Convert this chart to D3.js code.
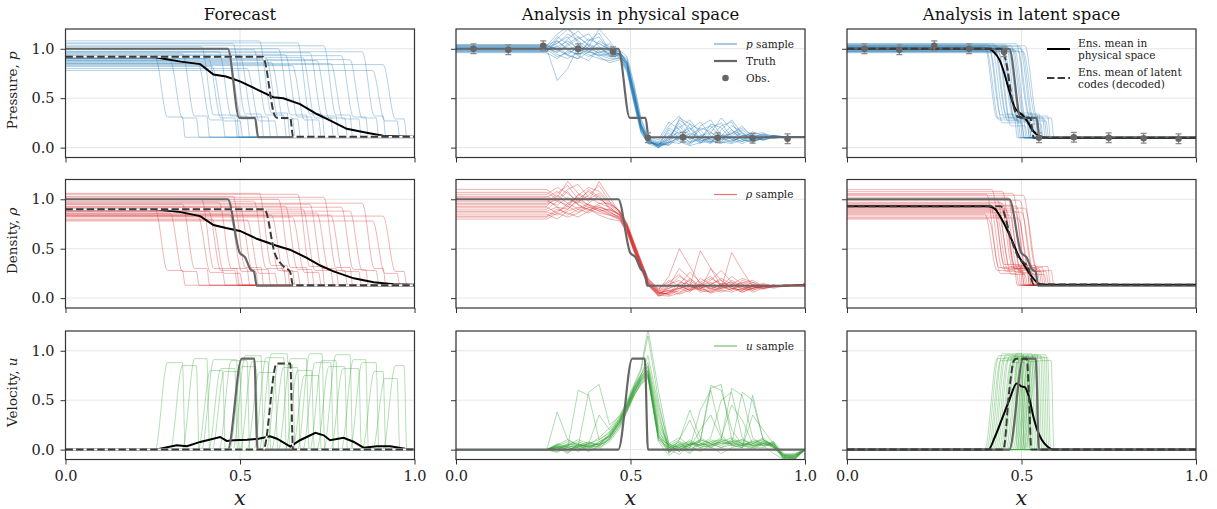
<!DOCTYPE html>
<html>
<head>
<meta charset="utf-8">
<script src="https://cdn.jsdelivr.net/npm/d3@7"></script>
<style>
  body { margin: 0; background: #fff; }
  svg { font-family: "DejaVu Serif", serif; }
</style>
</head>
<body>
<svg id="chart" width="1217" height="509"></svg>
<script>
/* ---------- data ---------- */

var xTicks = [0, 0.5, 1.0],
    yTicks = [0, 0.5, 1.0];

var titles = ["Forecast", "Analysis in physical space", "Analysis in latent space"];

// observations of pressure (with error bars)
var obsX   = [0.05, 0.15, 0.25, 0.35, 0.45, 0.55, 0.65, 0.75, 0.85, 0.95];
var obsP   = [1.00, 0.99, 1.03, 1.00, 0.97, 0.10, 0.105, 0.10, 0.095, 0.09];
var obsErr = 0.05;

// truth
var truthP   = [[0,1],[0.465,1],[0.498,0.3],[0.543,0.3],[0.552,0.105],[1,0.105]];
var truthRho = [[0,1],[0.465,1],[0.499,0.46],[0.515,0.41],[0.53,0.29],[0.54,0.27],[0.548,0.125],[1,0.125]];
var truthU   = [[0,0],[0.465,0],[0.505,0.92],[0.541,0.92],[0.55,0],[1,0]];

var pRight = 0.105, rhoRight = 0.13;

// forecast ensemble members: rarefaction start, shock position, levels, peaks
var fcDrop     = [0.257,0.300,0.335,0.380,0.390,0.410,0.420,0.440,0.470,0.480,0.500,0.520,0.540,0.555,0.575,0.590,0.610,0.630,0.650,0.665,0.680,0.700,0.720,0.740,0.760,0.790,0.815,0.850,0.880,0.910];
var fcShock    = [0.335,0.375,0.405,0.450,0.490,0.485,0.500,0.520,0.545,0.560,0.580,0.600,0.625,0.635,0.650,0.665,0.690,0.705,0.725,0.735,0.760,0.775,0.800,0.815,0.840,0.860,0.890,0.910,0.950,0.970];
var fcLevelP   = [0.92,0.88,0.95,0.85,1.02,0.90,0.82,0.97,0.87,1.05,0.93,0.80,0.99,1.08,0.90,0.86,1.00,0.94,0.83,1.06,0.91,0.96,0.88,1.03,0.85,0.93,0.89,0.97,0.78,0.84];
var fcMidP     = [0.31,0.30,0.32,0.28,0.33,0.30,0.27,0.32,0.29,0.34,0.31,0.27,0.33,0.35,0.30,0.29,0.33,0.31,0.28,0.34,0.30,0.32,0.30,0.33,0.29,0.31,0.30,0.32,0.27,0.29];
var fcLevelRho = [0.90,0.86,0.95,0.83,1.00,0.88,0.80,0.97,0.85,1.03,0.92,0.79,0.98,1.06,0.88,0.84,1.00,0.93,0.82,1.05,0.90,0.95,0.86,1.02,0.84,0.92,0.88,0.96,0.78,0.83];
var fcMidRho   = [0.28,0.27,0.30,0.26,0.30,0.28,0.25,0.30,0.27,0.31,0.29,0.25,0.30,0.33,0.28,0.27,0.31,0.29,0.26,0.32,0.28,0.30,0.28,0.31,0.27,0.29,0.28,0.30,0.25,0.27];
var fcPeakU    = [0.88,0.85,0.92,0.80,0.91,0.82,0.79,0.90,0.84,0.95,0.89,0.78,0.93,0.97,0.86,0.83,0.92,0.80,0.75,0.97,0.88,0.90,0.84,0.96,0.82,0.91,0.88,0.79,0.72,0.85];

var fcMeanP   = [[0,0.915],[0.257,0.915],[0.33,0.87],[0.386,0.845],[0.424,0.74],[0.46,0.72],[0.5,0.67],[0.548,0.59],[0.595,0.51],[0.624,0.5],[0.672,0.44],[0.72,0.34],[0.749,0.29],[0.806,0.19],[0.863,0.15],[0.91,0.12],[1,0.11]];
var fcMeanRho = [[0,0.9],[0.257,0.9],[0.33,0.87],[0.386,0.83],[0.424,0.74],[0.46,0.71],[0.5,0.68],[0.548,0.6],[0.605,0.53],[0.643,0.49],[0.69,0.41],[0.73,0.33],[0.768,0.27],[0.826,0.2],[0.883,0.16],[0.94,0.14],[1,0.135]];
var fcMeanU   = [[0,0],[0.257,0],[0.319,0.044],[0.348,0.034],[0.386,0.078],[0.443,0.128],[0.462,0.088],[0.481,0.095],[0.52,0.1],[0.553,0.11],[0.586,0.135],[0.606,0.11],[0.644,0.03],[0.672,0.095],[0.716,0.17],[0.74,0.145],[0.758,0.095],[0.797,0.12],[0.825,0.08],[0.854,0.02],[0.892,0.034],[0.93,0.034],[0.973,0.01],[1,0]];
var fcLatentP   = [[0,0.92],[0.565,0.92],[0.6,0.32],[0.607,0.3],[0.644,0.3],[0.652,0.11],[1,0.11]];
var fcLatentRho = [[0,0.9],[0.57,0.9],[0.6,0.45],[0.625,0.32],[0.643,0.27],[0.652,0.13],[1,0.13]];
var fcLatentU   = [[0,0],[0.567,0],[0.605,0.87],[0.644,0.87],[0.652,0],[1,0]];

// analysis in latent space: members
var laDrop     = [0.395,0.400,0.405,0.410,0.415,0.420,0.425,0.430,0.435,0.440,0.445,0.450,0.455,0.460,0.465,0.470,0.475,0.480,0.485,0.490,0.495,0.500,0.505,0.510,0.445];
var laShock    = [0.480,0.490,0.485,0.500,0.495,0.505,0.500,0.515,0.510,0.520,0.515,0.530,0.525,0.540,0.535,0.545,0.540,0.555,0.550,0.565,0.560,0.570,0.575,0.585,0.520];
var laLevelP   = [1.02,0.98,1.04,0.97,1.01,1.05,0.99,1.03,0.96,1.00,1.02,0.98,1.04,1.01,0.97,1.03,1.00,0.99,1.05,0.98,1.02,1.00,0.97,1.03,1.01];
var laMidP     = [0.30,0.28,0.33,0.25,0.31,0.34,0.27,0.30,0.22,0.32,0.29,0.35,0.26,0.31,0.28,0.33,0.30,0.24,0.34,0.29,0.31,0.27,0.32,0.30,0.28];
var laLevelRho = [0.85,1.05,0.80,0.95,1.10,0.88,0.92,1.00,0.82,0.97,1.08,0.86,0.90,1.02,0.84,0.94,1.06,0.89,0.93,0.81,0.99,0.87,1.04,0.91,0.96];
var laMidRho   = [0.28,0.31,0.25,0.30,0.34,0.27,0.29,0.32,0.24,0.30,0.33,0.26,0.28,0.31,0.25,0.29,0.33,0.27,0.30,0.24,0.31,0.27,0.32,0.28,0.30];
var laPeakU    = [0.92,0.95,0.90,0.97,0.93,0.96,0.91,0.94,0.88,0.95,0.92,0.97,0.90,0.94,0.93,0.96,0.91,0.95,0.89,0.94,0.92,0.96,0.93,0.90,0.94];

var laMeanP   = [[0,1.0],[0.405,1.0],[0.42,0.97],[0.438,0.88],[0.45,0.76],[0.462,0.61],[0.48,0.41],[0.505,0.32],[0.518,0.26],[0.529,0.19],[0.545,0.13],[0.558,0.11],[0.58,0.1],[1,0.1]];
var laMeanRho = [[0,0.93],[0.405,0.93],[0.425,0.9],[0.443,0.8],[0.472,0.59],[0.49,0.44],[0.51,0.32],[0.529,0.22],[0.548,0.15],[0.567,0.135],[1,0.135]];
var laMeanU   = [[0,0],[0.405,0],[0.424,0.13],[0.443,0.3],[0.465,0.5],[0.486,0.67],[0.5,0.64],[0.51,0.63],[0.52,0.55],[0.535,0.32],[0.545,0.2],[0.558,0.1],[0.575,0.03],[0.59,0],[1,0]];
var laLatentP   = [[0,1.0],[0.44,1.0],[0.455,0.88],[0.475,0.45],[0.49,0.31],[0.525,0.3],[0.535,0.1],[1,0.1]];
var laLatentRho = [[0,0.93],[0.44,0.93],[0.47,0.6],[0.49,0.42],[0.52,0.3],[0.535,0.14],[1,0.135]];
var laLatentU   = [[0,0],[0.448,0],[0.465,0.6],[0.478,0.9],[0.485,0.92],[0.515,0.92],[0.522,0.5],[0.528,0],[1,0]];

// analysis in physical space: members sampled on a common x grid
var gridX = [0,0.26,0.29,0.32,0.35,0.38,0.41,0.44,0.47,0.49,0.51,0.53,0.55,0.58,0.61,0.64,0.67,0.70,0.73,0.76,0.79,0.82,0.85,0.88,0.91,0.94,0.97,1.0];

var paP = [
  [1.00,1.00,0.68,0.80,1.02,0.97,0.93,0.95,0.94,0.82,0.50,0.20,0.06,0.02,0.10,0.25,0.12,0.04,0.15,0.10,0.05,0.12,0.12,0.08,0.11,0.11,0.11,0.11],
  [1.03,1.03,1.15,1.22,1.06,0.97,1.02,0.94,0.95,0.88,0.58,0.25,0.09,0.00,0.06,0.30,0.24,0.07,0.10,0.22,0.26,0.08,0.05,0.12,0.10,0.11,0.11,0.11],
  [0.98,0.98,1.03,0.94,0.90,1.08,1.16,0.98,0.90,0.78,0.48,0.20,0.05,0.03,0.18,0.10,0.04,0.22,0.28,0.12,0.10,0.15,0.08,0.10,0.12,0.10,0.11,0.11],
  [1.01,1.01,0.96,1.05,1.12,1.03,0.95,0.92,0.96,0.85,0.55,0.22,0.08,0.05,0.02,0.14,0.20,0.10,0.05,0.08,0.18,0.12,0.14,0.10,0.09,0.11,0.11,0.11],
  [0.97,0.97,1.08,1.00,0.93,0.88,1.00,1.05,0.92,0.80,0.52,0.18,0.04,0.00,0.08,0.12,0.06,0.09,0.20,0.25,0.10,0.06,0.10,0.13,0.12,0.10,0.11,0.11],
  [1.04,1.04,0.98,1.10,1.18,1.08,1.12,0.97,0.95,0.90,0.62,0.28,0.10,0.06,0.22,0.32,0.15,0.10,0.06,0.12,0.14,0.22,0.10,0.08,0.12,0.11,0.11,0.11],
  [0.99,0.99,0.92,0.96,1.00,0.94,0.90,0.88,0.91,0.80,0.46,0.16,0.05,0.04,0.05,0.10,0.18,0.26,0.12,0.05,0.07,0.10,0.16,0.12,0.10,0.11,0.11,0.11],
  [1.02,1.02,1.05,1.15,1.08,1.00,0.96,0.99,0.97,0.86,0.58,0.24,0.08,0.02,0.12,0.08,0.03,0.12,0.15,0.30,0.18,0.08,0.06,0.10,0.12,0.11,0.11,0.11],
  [1.00,1.00,1.12,1.05,0.96,1.02,1.20,1.08,0.93,0.84,0.54,0.21,0.06,0.01,0.04,0.20,0.28,0.14,0.08,0.04,0.12,0.18,0.10,0.14,0.10,0.11,0.11,0.11],
  [0.96,0.96,0.90,0.98,1.04,0.99,0.92,0.86,0.89,0.76,0.44,0.15,0.04,0.05,0.15,0.06,0.02,0.05,0.10,0.14,0.08,0.04,0.09,0.11,0.11,0.10,0.11,0.11],
  [1.03,1.03,1.00,0.94,1.02,1.10,1.05,1.00,0.98,0.92,0.65,0.30,0.11,0.08,0.26,0.18,0.08,0.18,0.22,0.10,0.06,0.12,0.12,0.08,0.10,0.11,0.11,0.11],
  [0.98,0.98,1.06,1.12,0.98,0.92,0.97,0.93,0.94,0.83,0.50,0.19,0.07,0.03,0.03,0.09,0.14,0.08,0.04,0.18,0.28,0.14,0.07,0.09,0.12,0.11,0.11,0.11],
  [1.01,1.01,0.94,0.90,0.97,1.05,1.00,0.96,0.92,0.82,0.53,0.22,0.07,0.00,0.10,0.16,0.10,0.06,0.10,0.08,0.10,0.06,0.14,0.15,0.11,0.10,0.11,0.11],
  [0.99,0.99,1.02,1.08,1.00,0.96,1.08,1.02,0.96,0.87,0.56,0.23,0.09,0.04,0.08,0.28,0.20,0.05,0.06,0.12,0.22,0.16,0.06,0.10,0.12,0.11,0.11,0.11],
  [1.02,1.02,0.99,0.93,0.90,0.97,0.94,0.90,0.90,0.79,0.47,0.17,0.05,0.02,0.06,0.04,0.12,0.20,0.16,0.06,0.04,0.08,0.12,0.13,0.10,0.11,0.11,0.11],
  [0.97,0.97,1.10,1.20,1.12,1.04,0.98,0.95,0.95,0.86,0.57,0.24,0.08,0.01,0.20,0.14,0.05,0.08,0.24,0.20,0.08,0.10,0.09,0.11,0.11,0.10,0.11,0.11],
  [1.00,1.00,0.97,1.03,1.10,1.15,1.02,0.93,0.93,0.84,0.51,0.20,0.06,0.03,0.12,0.22,0.09,0.12,0.08,0.10,0.14,0.20,0.12,0.07,0.11,0.11,0.11,0.11],
  [1.04,1.04,1.08,0.98,0.94,0.99,1.06,0.98,0.94,0.85,0.55,0.22,0.07,0.02,0.05,0.10,0.24,0.18,0.06,0.06,0.16,0.10,0.05,0.10,0.12,0.11,0.11,0.11]
];

var paRho = [
  [0.82,0.82,0.88,0.93,0.87,0.95,0.90,0.86,0.82,0.70,0.50,0.32,0.15,0.05,0.04,0.10,0.14,0.08,0.10,0.12,0.14,0.10,0.12,0.13,0.12,0.13,0.13,0.14],
  [1.10,1.10,1.02,1.18,1.06,1.00,1.06,0.95,0.88,0.74,0.55,0.36,0.18,0.08,0.22,0.50,0.32,0.14,0.10,0.14,0.16,0.12,0.10,0.12,0.13,0.12,0.13,0.14],
  [0.95,0.95,1.00,0.92,1.05,0.98,1.18,1.02,0.86,0.72,0.52,0.34,0.16,0.06,0.08,0.06,0.12,0.48,0.30,0.12,0.08,0.14,0.10,0.12,0.13,0.12,0.13,0.14],
  [0.88,0.88,0.92,0.84,0.90,0.86,0.92,0.88,0.80,0.68,0.48,0.30,0.14,0.04,0.10,0.14,0.08,0.12,0.16,0.10,0.46,0.28,0.12,0.10,0.12,0.13,0.13,0.14],
  [1.02,1.02,1.08,1.00,0.96,1.10,1.02,0.92,0.84,0.72,0.52,0.33,0.15,0.02,0.06,0.12,0.18,0.10,0.06,0.10,0.12,0.16,0.12,0.09,0.12,0.13,0.13,0.14],
  [0.92,0.92,0.86,0.96,1.02,0.94,0.88,0.90,0.85,0.75,0.56,0.38,0.20,0.10,0.16,0.24,0.12,0.08,0.30,0.18,0.10,0.08,0.14,0.12,0.13,0.12,0.13,0.14],
  [0.85,0.85,0.80,0.88,0.92,0.90,0.84,0.80,0.78,0.66,0.47,0.29,0.13,0.03,0.02,0.05,0.10,0.14,0.10,0.06,0.10,0.12,0.16,0.12,0.10,0.12,0.13,0.14],
  [1.05,1.05,1.12,1.06,0.98,1.04,1.14,0.98,0.87,0.73,0.54,0.35,0.17,0.07,0.12,0.30,0.20,0.10,0.14,0.20,0.14,0.10,0.08,0.12,0.13,0.12,0.13,0.14],
  [0.98,0.98,0.94,1.02,0.95,0.88,0.96,0.92,0.83,0.71,0.51,0.33,0.15,0.05,0.08,0.10,0.06,0.16,0.22,0.12,0.08,0.18,0.14,0.10,0.12,0.13,0.13,0.14],
  [0.90,0.90,0.98,1.08,0.94,0.90,0.86,0.84,0.81,0.69,0.49,0.31,0.14,0.04,0.05,0.16,0.14,0.06,0.08,0.15,0.12,0.06,0.10,0.14,0.12,0.13,0.13,0.14],
  [1.00,1.00,0.92,0.90,1.00,1.08,1.00,0.94,0.86,0.74,0.55,0.37,0.19,0.09,0.18,0.12,0.08,0.20,0.14,0.10,0.18,0.12,0.06,0.10,0.13,0.12,0.13,0.14],
  [0.83,0.83,0.90,0.86,0.82,0.88,0.94,0.87,0.82,0.70,0.50,0.32,0.15,0.06,0.03,0.08,0.20,0.12,0.05,0.08,0.14,0.20,0.16,0.10,0.11,0.13,0.13,0.14],
  [1.07,1.07,1.00,1.10,1.15,1.02,0.96,0.96,0.88,0.76,0.57,0.38,0.20,0.08,0.14,0.18,0.10,0.12,0.18,0.28,0.16,0.08,0.10,0.12,0.13,0.12,0.13,0.14],
  [0.93,0.93,1.04,0.96,0.90,0.96,1.04,0.90,0.84,0.72,0.52,0.34,0.16,0.05,0.07,0.04,0.08,0.10,0.12,0.08,0.06,0.10,0.12,0.15,0.12,0.12,0.13,0.14],
  [0.87,0.87,0.84,0.90,0.98,0.92,0.90,0.85,0.80,0.68,0.49,0.31,0.14,0.03,0.12,0.22,0.16,0.08,0.06,0.12,0.22,0.14,0.08,0.11,0.13,0.13,0.13,0.14],
  [1.03,1.03,0.98,0.94,1.04,1.12,1.08,0.97,0.87,0.74,0.54,0.36,0.18,0.07,0.10,0.14,0.26,0.16,0.08,0.10,0.12,0.15,0.18,0.12,0.12,0.13,0.13,0.14],
  [0.96,0.96,1.06,1.14,1.00,0.94,0.92,0.89,0.84,0.72,0.53,0.35,0.17,0.06,0.04,0.12,0.08,0.14,0.20,0.14,0.10,0.08,0.12,0.13,0.11,0.13,0.13,0.14],
  [0.80,0.80,0.86,0.82,0.86,0.92,0.88,0.84,0.79,0.67,0.48,0.30,0.13,0.02,0.06,0.10,0.12,0.10,0.14,0.18,0.10,0.06,0.10,0.12,0.12,0.13,0.13,0.14]
];

var paU = [
  [0,0,0.02,-0.02,0.05,0.03,0.00,0.12,0.28,0.42,0.58,0.70,0.76,0.10,-0.02,0.04,0.00,0.06,0.03,-0.04,0.02,0.05,0.00,0.06,0.02,-0.08,-0.06,0],
  [0,0,0.38,0.10,0.05,-0.02,0.04,0.15,0.30,0.45,0.62,0.74,0.82,0.30,0.02,0.08,-0.03,0.10,0.65,0.60,0.20,0.05,0.08,0.04,-0.04,-0.10,-0.08,0],
  [0,0,0.05,0.02,0.60,0.55,0.10,0.18,0.32,0.46,0.64,0.80,1.15,0.50,0.00,-0.05,0.06,0.02,0.08,0.10,0.05,0.02,0.55,0.10,0.03,-0.07,-0.09,0],
  [0,0,-0.03,0.04,0.02,0.06,0.05,0.10,0.25,0.40,0.55,0.66,0.72,0.12,0.05,0.02,0.10,0.04,0.02,0.08,0.12,0.06,0.04,0.08,0.06,-0.05,-0.04,0],
  [0,0,0.04,0.08,0.03,0.58,0.66,0.25,0.34,0.48,0.64,0.76,0.88,0.40,-0.04,0.10,0.40,0.12,0.06,0.02,0.05,0.08,0.03,0.02,0.08,-0.10,-0.10,0],
  [0,0,0.02,-0.04,0.06,0.02,0.08,0.14,0.30,0.44,0.60,0.72,0.78,0.15,0.03,-0.02,0.05,0.08,0.62,0.66,0.10,0.04,0.06,0.10,0.04,-0.06,-0.07,0],
  [0,0,0.06,0.03,-0.02,0.04,0.02,0.08,0.22,0.38,0.54,0.66,0.74,0.08,-0.06,0.02,0.04,0.10,0.06,0.12,0.45,0.30,0.06,0.08,0.02,-0.09,-0.08,0],
  [0,0,0.00,0.05,0.10,0.06,0.35,0.20,0.33,0.47,0.62,0.75,0.95,0.45,0.06,0.12,0.04,-0.02,0.05,0.08,0.04,0.02,0.10,0.06,0.08,-0.04,-0.05,0],
  [0,0,0.03,0.00,0.04,0.08,0.04,0.12,0.28,0.42,0.57,0.70,0.80,0.20,0.00,0.06,0.02,0.20,0.35,0.12,0.06,0.58,0.50,0.10,0.04,-0.07,-0.09,0],
  [0,0,-0.02,0.02,0.05,0.03,0.06,0.16,0.31,0.44,0.60,0.73,0.79,0.18,0.04,0.00,0.06,0.04,0.08,0.04,0.10,0.06,0.02,0.06,0.05,-0.11,-0.10,0],
  [0,0,0.05,0.10,0.04,0.00,0.08,0.13,0.27,0.41,0.56,0.68,0.75,0.14,-0.03,0.05,0.08,0.02,0.04,0.10,0.62,0.55,0.12,0.04,0.06,-0.06,-0.05,0],
  [0,0,0.02,0.06,0.02,0.05,0.03,0.11,0.26,0.40,0.58,0.72,0.85,0.35,0.02,0.08,0.05,0.10,0.06,0.02,0.08,0.10,0.06,0.12,0.03,-0.08,-0.07,0],
  [0,0,0.04,-0.03,0.03,0.06,0.10,0.17,0.32,0.46,0.62,0.76,0.84,0.25,0.06,0.02,-0.04,0.06,0.04,0.06,0.06,0.04,0.08,0.10,0.02,-0.05,-0.06,0],
  [0,0,0.00,0.04,0.08,0.04,0.06,0.14,0.29,0.43,0.59,0.71,0.77,0.10,0.02,0.04,0.02,0.40,0.60,0.15,0.04,0.06,0.05,0.04,0.07,-0.09,-0.10,0],
  [0,0,0.03,0.02,0.00,0.05,0.12,0.22,0.35,0.50,0.66,0.82,1.22,0.60,0.05,-0.02,0.08,0.04,0.10,0.06,0.08,0.04,0.02,0.08,0.05,-0.07,-0.08,0],
  [0,0,0.01,0.05,0.06,0.02,0.04,0.10,0.24,0.39,0.55,0.68,0.74,0.12,0.00,0.06,0.04,0.08,0.02,0.10,0.08,0.02,0.35,0.20,0.06,-0.06,-0.06,0],
  [0,0,0.04,0.00,0.03,0.07,0.05,0.15,0.30,0.45,0.61,0.74,0.80,0.22,0.04,0.10,0.30,0.06,0.05,0.08,0.06,0.10,0.04,0.06,0.04,-0.08,-0.09,0],
  [0,0,0.02,0.04,0.01,0.03,0.06,0.13,0.28,0.42,0.58,0.70,0.76,0.16,-0.02,0.03,0.06,0.05,0.12,0.50,0.58,0.12,0.04,0.06,0.03,-0.06,-0.07,0]
];

/* ---------- layout ---------- */
var colLeft = [65.5, 456, 847],
    rowTop  = [29, 179.5, 331],
    panelW  = 349,
    panelH  = 128.5;

var rows = [
  { label: "Pressure, ",  sym: "p", color: "#1f77b4" },
  { label: "Density, ",   sym: "\u03c1", color: "#d62728" },
  { label: "Velocity, ",  sym: "u", color: "#2ca02c" }
];

var xScale = d3.scaleLinear().domain([0, 1]).range([0, panelW]);
var yScale = d3.scaleLinear().domain([-0.1, 1.2]).range([panelH, 0]);

var smooth = d3.line().x(function(d){ return xScale(d[0]); }).y(function(d){ return yScale(d[1]); }).curve(d3.curveMonotoneX);
var jagged = d3.line().x(function(d){ return xScale(d[0]); }).y(function(d){ return yScale(d[1]); });

// a step member (level, rarefaction start, plateau, shock, right state)
function stepMember(L, xa, m, xb, R){
  return [[0,L],[xa,L],[xa+0.035,m],[xb,m],[xb+0.008,R],[1,R]];
}
// a velocity bump member
function bumpMember(xa, xb, h){
  return [[0,0],[xa,0],[xa+0.035,h],[xb,h],[xb+0.008,0],[1,0]];
}
function gridMember(vals){
  return vals.map(function(v, i){ return [gridX[i], v]; });
}

function membersFor(r, c){
  if (c === 0) {
    return fcDrop.map(function(xa, i){
      if (r === 0) return stepMember(fcLevelP[i], xa, fcMidP[i], fcShock[i], pRight);
      if (r === 1) return stepMember(fcLevelRho[i], xa, fcMidRho[i], fcShock[i], rhoRight);
      return bumpMember(xa, fcShock[i], fcPeakU[i]);
    });
  }
  if (c === 2) {
    return laDrop.map(function(xa, i){
      if (r === 0) return stepMember(laLevelP[i], xa, laMidP[i], laShock[i], 0.1);
      if (r === 1) return stepMember(laLevelRho[i], xa, laMidRho[i], laShock[i], rhoRight);
      return bumpMember(xa, laShock[i], laPeakU[i]);
    });
  }
  return [paP, paRho, paU][r].map(gridMember);
}

var truths  = [truthP, truthRho, truthU];
var means   = [[fcMeanP, fcMeanRho, fcMeanU], null, [laMeanP, laMeanRho, laMeanU]];
var latents = [[fcLatentP, fcLatentRho, fcLatentU], null, [laLatentP, laLatentRho, laLatentU]];

var svg = d3.select("#chart");
var fmt = d3.format(".1f");

/* titles */
titles.forEach(function(t, c){
  svg.append("text")
    .attr("x", colLeft[c] + panelW/2).attr("y", 19.5)
    .attr("text-anchor", "middle")
    .style("font-size", "16.5px").style("fill", "#111")
    .text(t);
});

rows.forEach(function(row, r){
  [0, 1, 2].forEach(function(c){
    var g = svg.append("g")
      .attr("transform", "translate(" + colLeft[c] + "," + rowTop[r] + ")");

    var clipId = "clip" + r + c;
    g.append("clipPath").attr("id", clipId)
      .append("rect").attr("width", panelW).attr("height", panelH);

    /* grid */
    g.selectAll(".gy").data(yTicks).enter().append("line")
      .attr("x1", 0).attr("x2", panelW)
      .attr("y1", yScale).attr("y2", yScale)
      .attr("stroke", "#e6e6e6").attr("stroke-width", 1);
    g.selectAll(".gx").data(xTicks).enter().append("line")
      .attr("y1", 0).attr("y2", panelH)
      .attr("x1", xScale).attr("x2", xScale)
      .attr("stroke", "#e6e6e6").attr("stroke-width", 1);

    var plot = g.append("g").attr("clip-path", "url(#" + clipId + ")");

    /* ensemble members */
    plot.selectAll(".member").data(membersFor(r, c)).enter().append("path")
      .attr("d", c === 1 ? jagged : smooth)
      .attr("fill", "none")
      .attr("stroke", row.color)
      .attr("stroke-width", 0.9)
      .attr("stroke-opacity", c === 1 ? 0.42 : 0.38);

    /* ensemble mean in physical space */
    if (means[c]) {
      plot.append("path").attr("d", c === 0 ? jagged(means[c][r]) : smooth(means[c][r]))
        .attr("fill", "none").attr("stroke", "#000").attr("stroke-width", 2);
    }

    /* truth */
    plot.append("path").attr("d", smooth(truths[r]))
      .attr("fill", "none").attr("stroke", "#666").attr("stroke-width", 2.2)
      .attr("stroke-linejoin", "round");

    /* ensemble mean of latent codes */
    if (latents[c]) {
      if (c === 0) {
        plot.append("path").attr("d", smooth(latents[c][r]))
          .attr("fill", "none").attr("stroke", "#fff").attr("stroke-width", 2);
      }
      plot.append("path").attr("d", smooth(latents[c][r]))
        .attr("fill", "none").attr("stroke", "#3a3a3a").attr("stroke-width", 2)
        .attr("stroke-dasharray", "7.4,3.2");
    }

    /* observations */
    if (r === 0 && c > 0) {
      var obs = plot.selectAll(".obs").data(obsX).enter().append("g");
      obs.append("line")
        .attr("x1", xScale).attr("x2", xScale)
        .attr("y1", function(d, i){ return yScale(obsP[i] - obsErr); })
        .attr("y2", function(d, i){ return yScale(obsP[i] + obsErr); })
        .attr("stroke", "#8a8a8a").attr("stroke-width", 1.3);
      [-1, 1].forEach(function(s){
        obs.append("line")
          .attr("x1", function(d){ return xScale(d) - 3; })
          .attr("x2", function(d){ return xScale(d) + 3; })
          .attr("y1", function(d, i){ return yScale(obsP[i] + s*obsErr); })
          .attr("y2", function(d, i){ return yScale(obsP[i] + s*obsErr); })
          .attr("stroke", "#8a8a8a").attr("stroke-width", 1.3);
      });
      obs.append("circle")
        .attr("cx", xScale)
        .attr("cy", function(d, i){ return yScale(obsP[i]); })
        .attr("r", 3.3).attr("fill", "#666");
    }

    /* axes */
    var yAxis = d3.axisLeft(yScale).tickValues(yTicks).tickSize(5).tickPadding(6)
      .tickFormat(c === 0 ? fmt : "");
    var xAxis = d3.axisBottom(xScale).tickValues(xTicks).tickSize(5).tickPadding(6)
      .tickFormat(r === 2 ? fmt : "");

    var ya = g.append("g").call(yAxis);
    var xa = g.append("g").attr("transform", "translate(0," + panelH + ")").call(xAxis);
    [ya, xa].forEach(function(a){
      a.select(".domain").remove();
      a.selectAll("line").attr("stroke", "#333").attr("stroke-width", 1);
      a.selectAll("text").style("font-family", "DejaVu Serif, serif")
        .style("font-size", "14.5px").attr("fill", "#222");
    });

    /* spines */
    g.append("rect").attr("width", panelW).attr("height", panelH)
      .attr("fill", "none").attr("stroke", "#333").attr("stroke-width", 1.2);

    /* y label */
    if (c === 0) {
      var yl = svg.append("text")
        .attr("transform", "translate(17," + (rowTop[r] + panelH/2 - 3) + ") rotate(-90)")
        .attr("text-anchor", "middle")
        .style("font-size", "13.5px").style("fill", "#222");
      yl.append("tspan").text(row.label);
      yl.append("tspan").style("font-style", "italic").text(row.sym);
    }

    /* x label */
    if (r === 2) {
      svg.append("text")
        .attr("x", colLeft[c] + panelW/2).attr("y", 505)
        .attr("text-anchor", "middle")
        .style("font-size", "21px").style("font-style", "italic").style("fill", "#222")
        .text("x");
    }

    /* legends, column 2 */
    if (c === 1) {
      var lg = g.append("g").attr("transform", "translate(258,0)");
      var ly = [44 - rowTop[0], 194.5 - 179.5, 346 - 331][r];
      lg.append("line").attr("x1", 0).attr("x2", 23).attr("y1", ly).attr("y2", ly)
        .attr("stroke", row.color).attr("stroke-width", 1.2).attr("stroke-opacity", 0.65);
      var lt = lg.append("text").attr("x", 32).attr("y", ly + 3.8)
        .style("font-size", "10.5px").style("fill", "#222");
      lt.append("tspan").style("font-style", "italic").text(row.sym);
      lt.append("tspan").text(" sample");
      if (r === 0) {
        lg.append("line").attr("x1", 0).attr("x2", 23).attr("y1", 32).attr("y2", 32)
          .attr("stroke", "#666").attr("stroke-width", 2.2);
        lg.append("text").attr("x", 32).attr("y", 35.8)
          .style("font-size", "10.5px").style("fill", "#222").text("Truth");
        lg.append("circle").attr("cx", 11.5).attr("cy", 49).attr("r", 3.3).attr("fill", "#666");
        lg.append("text").attr("x", 32).attr("y", 52.8)
          .style("font-size", "10.5px").style("fill", "#222").text("Obs.");
      }
    }

    /* legend, column 3 */
    if (c === 2 && r === 0) {
      var lg3 = g.append("g").attr("transform", "translate(200,0)");
      lg3.append("line").attr("x1", 0).attr("x2", 23).attr("y1", 20).attr("y2", 20)
        .attr("stroke", "#000").attr("stroke-width", 2);
      lg3.append("line").attr("x1", 0).attr("x2", 23).attr("y1", 49).attr("y2", 49)
        .attr("stroke", "#3a3a3a").attr("stroke-width", 2).attr("stroke-dasharray", "7.4,3.2");
      [["Ens. mean in", 17.5], ["physical space", 29.5], ["Ens. mean of latent", 46.5], ["codes (decoded)", 58.5]]
        .forEach(function(t){
          lg3.append("text").attr("x", 31).attr("y", t[1])
            .style("font-size", "10.5px").style("fill", "#222").text(t[0]);
        });
    }
  });
});
</script>
</body>
</html>
